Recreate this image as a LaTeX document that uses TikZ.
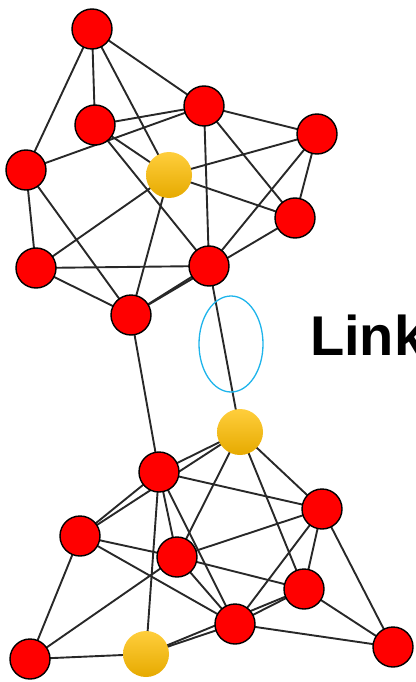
\documentclass[tikz,border=0pt]{standalone}
\usepackage{fontspec}
\setmainfont{Liberation Sans}
\definecolor{nodered}{RGB}{255,0,0}
\definecolor{goldtop}{RGB}{255,206,60}
\definecolor{goldbot}{RGB}{230,170,0}
\definecolor{edgegray}{RGB}{40,40,40}
\definecolor{linkcyan}{RGB}{30,180,235}
\begin{document}
\begin{tikzpicture}[x=1pt,y=-1pt,
  rnode/.style={circle,draw=black,line width=1.4pt,fill=nodered,minimum size=40pt,inner sep=0pt},
  ynode/.style={circle,minimum size=46pt,inner sep=0pt,top color=goldtop,bottom color=goldbot,shading angle=0},
  edge/.style={draw=edgegray,line width=1.9pt}]
\useasboundingbox (0,0) rectangle (415,682);
\path
  (92,29) coordinate (pA)
  (95,125) coordinate (pB)
  (204,106) coordinate (pC)
  (317,134) coordinate (pD)
  (26,170) coordinate (pE)
  (169,175) coordinate (pF)
  (295,218) coordinate (pG)
  (36,268) coordinate (pH)
  (209,266) coordinate (pI)
  (131,315) coordinate (pJ)
  (240,432) coordinate (pK)
  (159,472) coordinate (pL)
  (322,509) coordinate (pM)
  (80,536) coordinate (pN)
  (177,557) coordinate (pO)
  (304,589) coordinate (pP)
  (235,624) coordinate (pQ)
  (30,659) coordinate (pR)
  (146,654) coordinate (pS)
  (393,647) coordinate (pT);
% edges
\foreach \u/\v in {A/B,A/E,A/F,A/C,B/C,B/F,B/I,C/E,C/D,C/I,C/G,D/F,D/G,D/I,E/H,E/J,
  F/G,F/H,F/J,J/G,J/I,H/I,H/J,I/K,J/L,
  K/L,K/N,K/O,K/P,K/M,L/M,L/O,L/Q,L/S,L/N,M/O,M/P,M/T,M/Q,N/O,N/Q,N/R,
  O/P,O/Q,O/R,P/Q,P/S,P/T,Q/T,Q/S,R/S}
  \draw[edge] (p\u) -- (p\v);
% link ellipse
\draw[linkcyan,line width=1.3pt] (231,344) ellipse [x radius=32, y radius=48];
\node[anchor=base west,inner sep=0pt,font=\fontsize{56}{60}\selectfont\bfseries] (link) at (310,355) {Link};
% node discs
\foreach \n in {A,B,C,D,E,G,H,I,J,L,M,N,O,P,Q,R,T}
  \node[rnode] (\n) at (p\n) {};
\foreach \n in {F,K,S}
  \node[ynode] (\n) at (p\n) {};
\end{tikzpicture}
\end{document}
